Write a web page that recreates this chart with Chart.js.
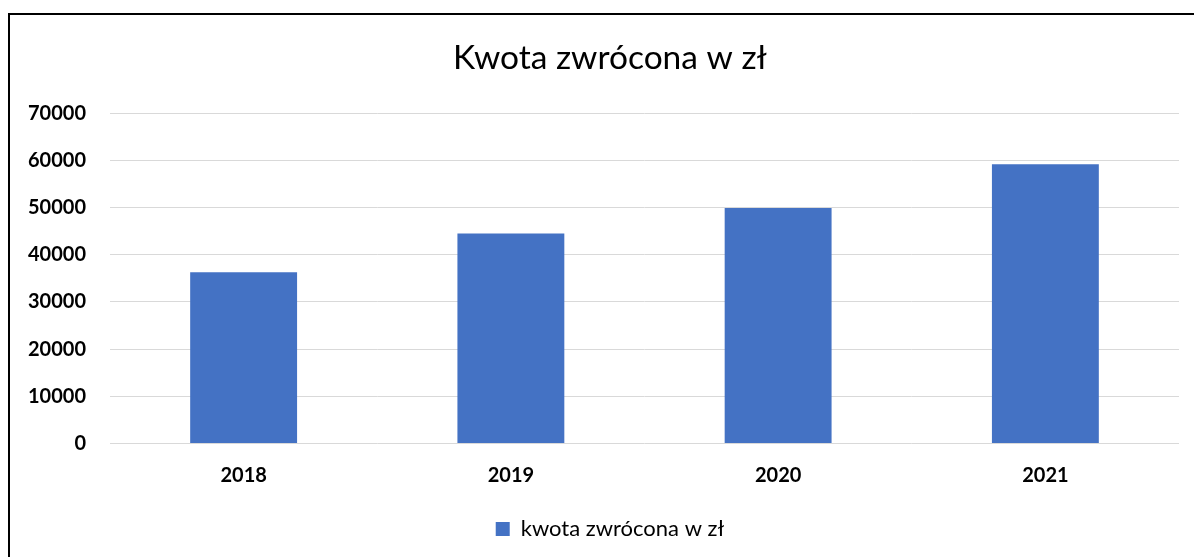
<!DOCTYPE html>
<html>
<head>
<meta charset="utf-8">
<script src="https://cdn.jsdelivr.net/npm/chart.js@4"></script>
<style>
  html, body { margin: 0; padding: 0; background: #fff; overflow: hidden; }
  #frame { position: absolute; left: 8px; top: 13px; width: 1200px; height: 560px; border: 2px solid #000; background: #fff; }
  #wrap { position: absolute; left: 0; top: 0; width: 1200px; height: 542px; }
</style>
</head>
<body>
<div id="frame"><div id="wrap"><canvas id="chart"></canvas></div></div>
<script>
// data
const years = ['2018', '2019', '2020', '2021'];
const amounts = [36300, 44500, 49900, 59200];
const yTicks = [0, 10000, 20000, 30000, 40000, 50000, 60000, 70000];
const titleText = 'Kwota zwrócona w zł';
const seriesName = 'kwota zwrócona w zł';

const FONT = 'Lato, "Open Sans", sans-serif';

new Chart(document.getElementById('chart'), {
    type: 'bar',
    data: {
        labels: years,
        datasets: [{
            label: seriesName,
            data: amounts,
            backgroundColor: '#4472C4',
            borderWidth: 0,
            categoryPercentage: 1,
            barPercentage: 0.4
        }]
    },
    options: {
        responsive: true,
        maintainAspectRatio: false,
        animation: false,
        layout: { padding: { left: 0, right: 0, top: 0, bottom: 7 } },
        plugins: {
            title: {
                display: true,
                text: titleText,
                color: '#000',
                font: { family: FONT, size: 33.5, weight: 'normal' },
                padding: { top: 23, bottom: 35 }
            },
            legend: {
                position: 'bottom',
                labels: {
                    color: '#000',
                    font: { family: FONT, size: 22 },
                    boxWidth: 14,
                    boxHeight: 14,
                    padding: 9.5
                }
            },
            tooltip: { enabled: false }
        },
        scales: {
            x: {
                grid: { display: false, drawTicks: false },
                border: { display: false },
                ticks: { color: '#000', font: { family: FONT, size: 20, weight: 'bold' }, padding: 20.5 }
            },
            y: {
                min: 0,
                max: 70000,
                afterBuildTicks: (scale) => { scale.ticks = yTicks.map(v => ({ value: v })); },
                afterFit: (scale) => { scale.width = 100; },
                grid: { color: '#d9d9d9', lineWidth: 1, drawTicks: false },
                border: { display: false },
                ticks: {
                    color: '#000',
                    font: { family: FONT, size: 20, weight: 'bold' },
                    padding: 24,
                    callback: (v) => String(v)
                }
            },
            // empty right-hand axis, only keeps the plot clear of the right side
            spacer: {
                position: 'right',
                min: 0,
                max: 70000,
                afterFit: (scale) => { scale.width = 31; },
                grid: { display: false, drawTicks: false },
                border: { display: false },
                ticks: { display: false }
            }
        }
    }
});
</script>
</body>
</html>
